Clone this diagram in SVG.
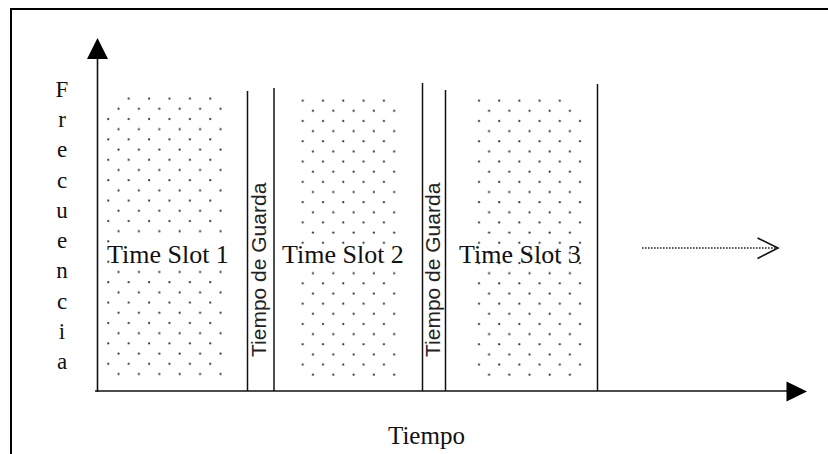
<svg xmlns="http://www.w3.org/2000/svg" width="828" height="454" viewBox="0 0 828 454">
  <style>
    .frame { stroke: #000; stroke-width: 2; fill: none; }
    .axis { stroke: #111; stroke-width: 1.6; fill: none; }
    .sep { stroke: #111; stroke-width: 1.5; fill: none; }
    .serif { font-family: "Liberation Serif", "Times New Roman", serif; fill: #111; }
    .sans { font-family: "Liberation Sans", Arial, sans-serif; fill: #222; }
    .dot { fill: #2e2e2e; }
  </style>
  <defs>
    <!-- diagonal dot grids for the three time slots -->
    <pattern id="dots1" patternUnits="userSpaceOnUse" x="103.3" y="93.6" width="20.4" height="20.4">
      <circle class="dot" cx="5" cy="5" r="1.1"/>
      <circle class="dot" cx="15.2" cy="15.2" r="1.1"/>
    </pattern>
    <pattern id="dots2" patternUnits="userSpaceOnUse" x="297.7" y="95.7" width="20.3" height="20.3">
      <circle class="dot" cx="5" cy="5" r="1.1"/>
      <circle class="dot" cx="15.3" cy="15.2" r="1.1"/>
    </pattern>
    <pattern id="dots3" patternUnits="userSpaceOnUse" x="474" y="95.7" width="20.2" height="20.3">
      <circle class="dot" cx="5" cy="5" r="1.1"/>
      <circle class="dot" cx="15.1" cy="15.2" r="1.1"/>
    </pattern>
  </defs>

  <!-- page frame (top and left edges) -->
  <path class="frame" d="M828,9 H11 V454"/>

  <!-- axes -->
  <g id="axes">
    <line class="axis" x1="97.5" y1="392" x2="97.5" y2="57"/>
    <path d="M97.5,38 L108,59 L87,59 Z" fill="#000"/>
    <line class="axis" x1="95" y1="391" x2="788" y2="391"/>
    <path d="M807,391.5 L786.5,381.5 L786.5,401.5 Z" fill="#000"/>
  </g>

  <!-- time slots -->
  <g id="slot1">
    <polygon points="114,95 225,95 225,378 104,378 104,105" fill="url(#dots1)"/>
    <rect x="112" y="236" width="118" height="31" fill="#fff"/>
    <text class="serif" x="107" y="263" font-size="26">Time Slot 1</text>
  </g>
  <g id="guard1">
    <text class="sans" font-size="21" transform="translate(266,357) rotate(-90)">Tiempo de Guarda</text>
  </g>
  <g id="slot2">
    <rect x="298" y="97" width="102" height="281" fill="url(#dots2)"/>
    <rect x="282" y="247" width="124" height="21" fill="#fff"/>
    <text class="serif" x="282" y="263" font-size="26">Time Slot 2</text>
  </g>
  <g id="guard2">
    <text class="sans" font-size="21" transform="translate(440,357) rotate(-90)">Tiempo de Guarda</text>
  </g>
  <g id="slot3">
    <polygon points="474,97 572,97 585,110 585,378 474,378" fill="url(#dots3)"/>
    <text class="serif" x="459" y="263" font-size="26">Time Slot 3</text>
  </g>

  <!-- boundaries between slots and guard intervals -->
  <g id="connectors">
    <line class="sep" x1="247.5" y1="91" x2="247.5" y2="391"/>
    <line class="sep" x1="274" y1="88" x2="274" y2="391"/>
    <line class="sep" x1="422.5" y1="83" x2="422.5" y2="391"/>
    <line class="sep" x1="445.5" y1="90" x2="445.5" y2="391"/>
    <line class="sep" x1="597.5" y1="84" x2="597.5" y2="391"/>
    <!-- continuation arrow -->
    <line x1="642" y1="248" x2="776" y2="248" stroke="#222" stroke-width="1.4" stroke-dasharray="1.6,1.4"/>
    <polyline points="757.5,238 778,248 757.5,258.5" fill="none" stroke="#111" stroke-width="1.6"/>
  </g>

  <!-- axis labels -->
  <g id="freq-label" class="serif" font-size="23" text-anchor="middle">
    <text x="62" y="97">F</text>
    <text x="62" y="127">r</text>
    <text x="62" y="157">e</text>
    <text x="62" y="188">c</text>
    <text x="62" y="218">u</text>
    <text x="62" y="248">e</text>
    <text x="62" y="278">n</text>
    <text x="62" y="309">c</text>
    <text x="62" y="339">i</text>
    <text x="62" y="369">a</text>
  </g>
  <g id="time-label">
    <text class="serif" x="388" y="444" font-size="25">Tiempo</text>
  </g>
</svg>
